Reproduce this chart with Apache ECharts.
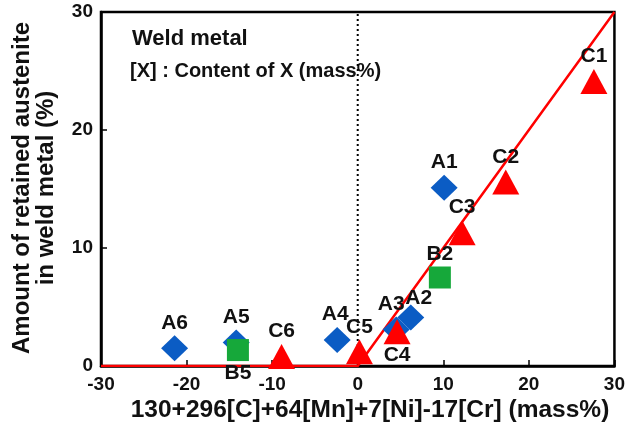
<!DOCTYPE html>
<html><head><meta charset="utf-8">
<script src="https://cdn.jsdelivr.net/npm/echarts@6/dist/echarts.min.js"></script>
<style>html,body{margin:0;padding:0;background:#fff}#c{width:628px;height:428px}</style>
</head><body><div id="c"></div>
<script>
// Series A (diamonds)
const aNames = ['A1','A2','A3','A4','A5','A6'];
const aX = [10.1, 6.2, 4.5, -2.4, -14.2, -21.4];
const aY = [15.1, 4.1, 3.1, 2.2, 2.0, 1.5];
const aLabelPos = ['top','top','top','top','top','top'];
// Series B (squares)
const bNames = ['B2','B5'];
const bX = [9.6, -14.0];
const bY = [7.5, 1.35];
const bLabelPos = ['top','bottom'];
// Series C (triangles)
const cNames = ['C1','C2','C3','C4','C5','C6'];
const cX = [27.6, 17.3, 12.2, 4.6, 0.2, -8.9];
const cY = [24.1, 15.6, 11.3, 2.9, 1.2, 0.8];
const cLabelPos = ['top','top','top','bottom','top','top'];
// Fit line
const fitX = [-30, 0, 30];
const fitY = [0, 0, 30];
const xTicks = [-30, 30, 10];
const yTicks = [0, 30, 10];

const FF = '"Liberation Sans", Arial, Helvetica, sans-serif';
const labelFont = {fontFamily:FF, fontWeight:'bold', fontSize:21, color:'#111'};
const labelOffsets = {A2:[8,6], A3:[-5,0], C5:[0,0], A4:[-2,0], C4:[0,-2]};
function mk(names, xs, ys, pos){
  return names.map((n,i)=>({value:[xs[i],ys[i]], name:n,
    label:Object.assign({show:true, formatter:n, position:pos[i], distance:2}, labelFont, labelOffsets[n]?{offset:labelOffsets[n]}:{})}));
}
const chart = echarts.init(document.getElementById('c'));
const axisCommon = {
  axisLine:{show:true, onZero:false, lineStyle:{color:'#000', width:2.5}},
  axisTick:{show:true, inside:true, length:6, lineStyle:{color:'#000', width:1.5}},
  splitLine:{show:false},
  axisLabel:{fontFamily:FF, fontWeight:'bold', fontSize:19, color:'#111'}
};
chart.setOption({
  animation:false,
  grid:{left:101, right:12, top:12, bottom:62, show:true, borderColor:'#000', borderWidth:2.5},
  xAxis:Object.assign({type:'value', min:xTicks[0], max:xTicks[1], interval:xTicks[2]}, axisCommon,
    {axisLabel:Object.assign({}, axisCommon.axisLabel, {margin:9})}),
  yAxis:Object.assign({type:'value', min:yTicks[0], max:yTicks[1], interval:yTicks[2]}, axisCommon,
    {axisLabel:Object.assign({}, axisCommon.axisLabel, {margin:8})}),
  graphic:[
    {type:'text', left:132, top:28, style:{text:'Weld metal', font:'bold 22px ' + FF, fill:'#111'}},
    {type:'text', left:130, top:61, style:{text:'[X] : Content of X (mass%)', font:'bold 20px ' + FF, fill:'#111'}},
    {type:'text', x:370, y:398, style:{text:'130+296[C]+64[Mn]+7[Ni]-17[Cr] (mass%)', font:'bold 24.5px ' + FF, fill:'#111', align:'center', verticalAlign:'top'}},
    {type:'text', x:10, y:188, rotation:Math.PI/2, style:{text:'Amount of retained austenite\nin weld metal (%)', font:'bold 24px ' + FF, fill:'#111', align:'center', verticalAlign:'top', lineHeight:24}}
  ],
  series:[
    {type:'line', data:[[0,0],[0,30]], symbol:'none', lineStyle:{color:'#000', width:2, type:[2,3]}, z:1},
    {type:'line', data:fitX.map((x,i)=>[x,fitY[i]]), symbol:'none', lineStyle:{color:'#ff0000', width:2.5}, z:2},
    {type:'scatter', symbol:'diamond', symbolSize:[27,26], itemStyle:{color:'#0b5cc4', opacity:1}, data:mk(aNames,aX,aY,aLabelPos), z:3},
    {type:'scatter', symbol:'rect', symbolSize:[22,22], itemStyle:{color:'#16a83a', opacity:1}, data:mk(bNames,bX,bY,bLabelPos), z:4},
    {type:'scatter', symbol:'triangle', symbolSize:[27,25], itemStyle:{color:'#ff0000', opacity:1}, data:mk(cNames,cX,cY,cLabelPos), z:5}
  ]
});
</script></body></html>
